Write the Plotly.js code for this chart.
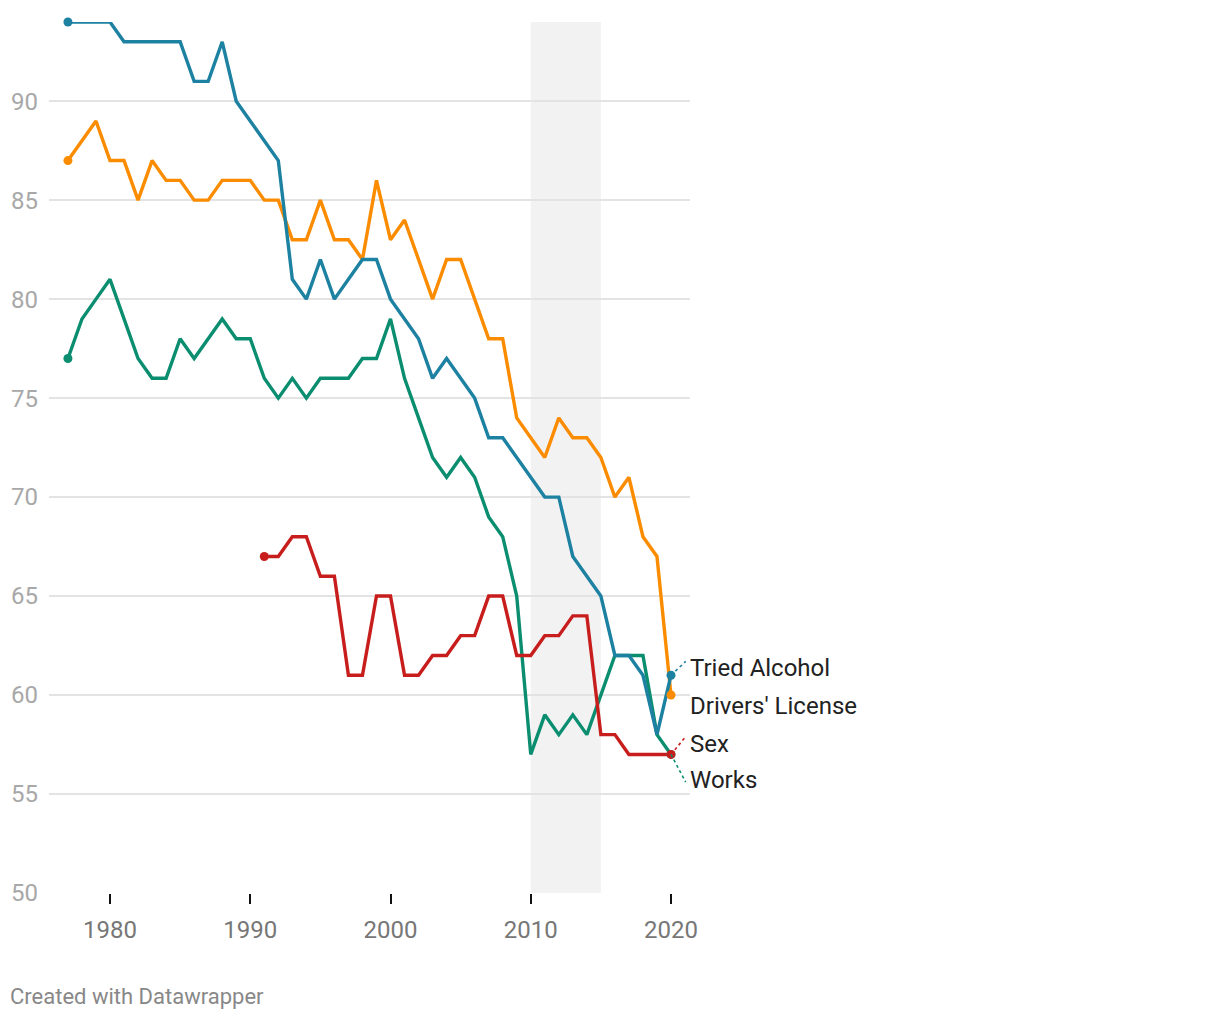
<!DOCTYPE html>
<html>
<head>
<meta charset="utf-8">
<script src="https://cdn.plot.ly/plotly-3.0.1.min.js"></script>
<style>
html,body{margin:0;padding:0;background:#fff;}
#chart{width:1220px;height:1020px;}
</style>
</head>
<body>
<div id="chart"></div>
<script>
const years = [];
for (let y = 1977; y <= 2020; y++) years.push(y);

const triedAlcohol = [94,94,94,94,93,93,93,93,93,91, 91,93,90,89,88,87,81,80,82,80, 81,82,82,80,79,78,76,77,76,75, 73,73,72,71,70,70,67,66,65,62, 62,61,58,61];
const driversLicense = [87,88,89,87,87,85,87,86,86,85, 85,86,86,86,85,85,83,83,85,83, 83,82,86,83,84,82,80,82,82,80, 78,78,74,73,72,74,73,73,72,70, 71,68,67,60];
const works = [77,79,80,81,79,77,76,76,78,77, 78,79,78,78,76,75,76,75,76,76, 76,77,77,79,76,74,72,71,72,71, 69,68,65,57,59,58,59,58,60,62, 62,62,58,57];
const sex = [null,null,null,null,null,null,null,null,null,null,null,null,null,null, 67,67,68,68,66,66,61,61,65,65, 61,61,62,62,63,63,65,65,62,62, 63,63,64,64,58,58,57,57,57,57];

const seriesNames = ["Works", "Drivers' License", "Tried Alcohol", "Sex"];
const seriesData = [works, driversLicense, triedAlcohol, sex];
const seriesColors = ["#0b8d70", "#fb8c00", "#1d81a2", "#c71e1d"];
// right-side labels and their vertical positions (value units)
const labelNames = ["Tried Alcohol", "Drivers' License", "Sex", "Works"];
const labelY = [61.37, 59.45, 57.53, 55.71];
const labelColors = ["#1d81a2", "#fb8c00", "#c71e1d", "#0b8d70"];
const labelData = [triedAlcohol, driversLicense, sex, works];
const connectorEnd = [61.7, null, 57.9, 55.6];

const shadeStart = 2010, shadeEnd = 2015;

const traces = [];
seriesData.forEach((vals, i) => {
  traces.push({
    x: years, y: vals, type: 'scatter', mode: 'lines',
    line: {color: seriesColors[i], width: 3.4},
    connectgaps: false, hoverinfo: 'skip', cliponaxis: false,
    name: seriesNames[i]
  });
});
// endpoint dots
seriesData.forEach((vals, i) => {
  const first = vals.findIndex(v => v !== null);
  const last = vals.length - 1;
  traces.push({
    x: [years[first], years[last]], y: [vals[first], vals[last]],
    type: 'scatter', mode: 'markers',
    marker: {color: seriesColors[i], size: 9, opacity: 1, line: {width: 0}},
    hoverinfo: 'skip', cliponaxis: false
  });
});

// dotted connectors from endpoint to label
labelData.forEach((vals, i) => {
  if (connectorEnd[i] === null) return;
  const endVal = vals[vals.length - 1];
  traces.push({
    x: [years[years.length - 1], 2021.05], y: [endVal, connectorEnd[i]],
    type: 'scatter', mode: 'lines',
    line: {color: labelColors[i], width: 1.6, dash: 'dot'},
    hoverinfo: 'skip', cliponaxis: false
  });
});

const annotations = labelNames.map((n, i) => ({
  x: 2021.2, y: labelY[i], xref: 'x', yref: 'y', text: n,
  showarrow: false, xanchor: 'left', yanchor: 'middle',
  font: {family: 'Roboto', size: 24, color: '#222'}
}));
annotations.push({
  x: (8 - 49) / 641, y: (893 - 997) / 871, xref: 'paper', yref: 'paper',
  text: 'Created with Datawrapper',
  showarrow: false, xanchor: 'left', yanchor: 'middle',
  font: {family: 'Roboto', size: 22, color: '#888'}
});

const layout = {
  width: 1220, height: 1020,
  margin: {l: 49, r: 530, t: 22, b: 127},
  paper_bgcolor: '#fff', plot_bgcolor: '#fff',
  showlegend: false,
  font: {family: 'Roboto', size: 24, color: '#777'},
  xaxis: {
    range: [1975.65, 2021.355], tickvals: [1980, 1990, 2000, 2010, 2020],
    ticks: 'outside', ticklen: 10, tickwidth: 2, tickcolor: '#111',
    showgrid: false, zeroline: false, showline: false,
    tickfont: {family: 'Roboto', size: 24, color: '#777'},
    ticklabelstandoff: 5
  },
  yaxis: {
    range: [50, 94], tickvals: [50,55,60,65,70,75,80,85,90],
    showgrid: true, gridcolor: '#e3e3e3', gridwidth: 1.5,
    zeroline: false, showline: false, ticks: '',
    tickfont: {family: 'Roboto', size: 24, color: '#a8a8a8'},
    ticklabelstandoff: 10
  },
  shapes: [{
    type: 'rect', xref: 'x', yref: 'paper', x0: shadeStart, x1: shadeEnd, y0: 0, y1: 1,
    fillcolor: '#f2f2f2', line: {width: 0}, layer: 'below'
  }],
  annotations: annotations
};

Plotly.newPlot('chart', traces, layout, {displayModeBar: false, staticPlot: true});
</script>
</body>
</html>
